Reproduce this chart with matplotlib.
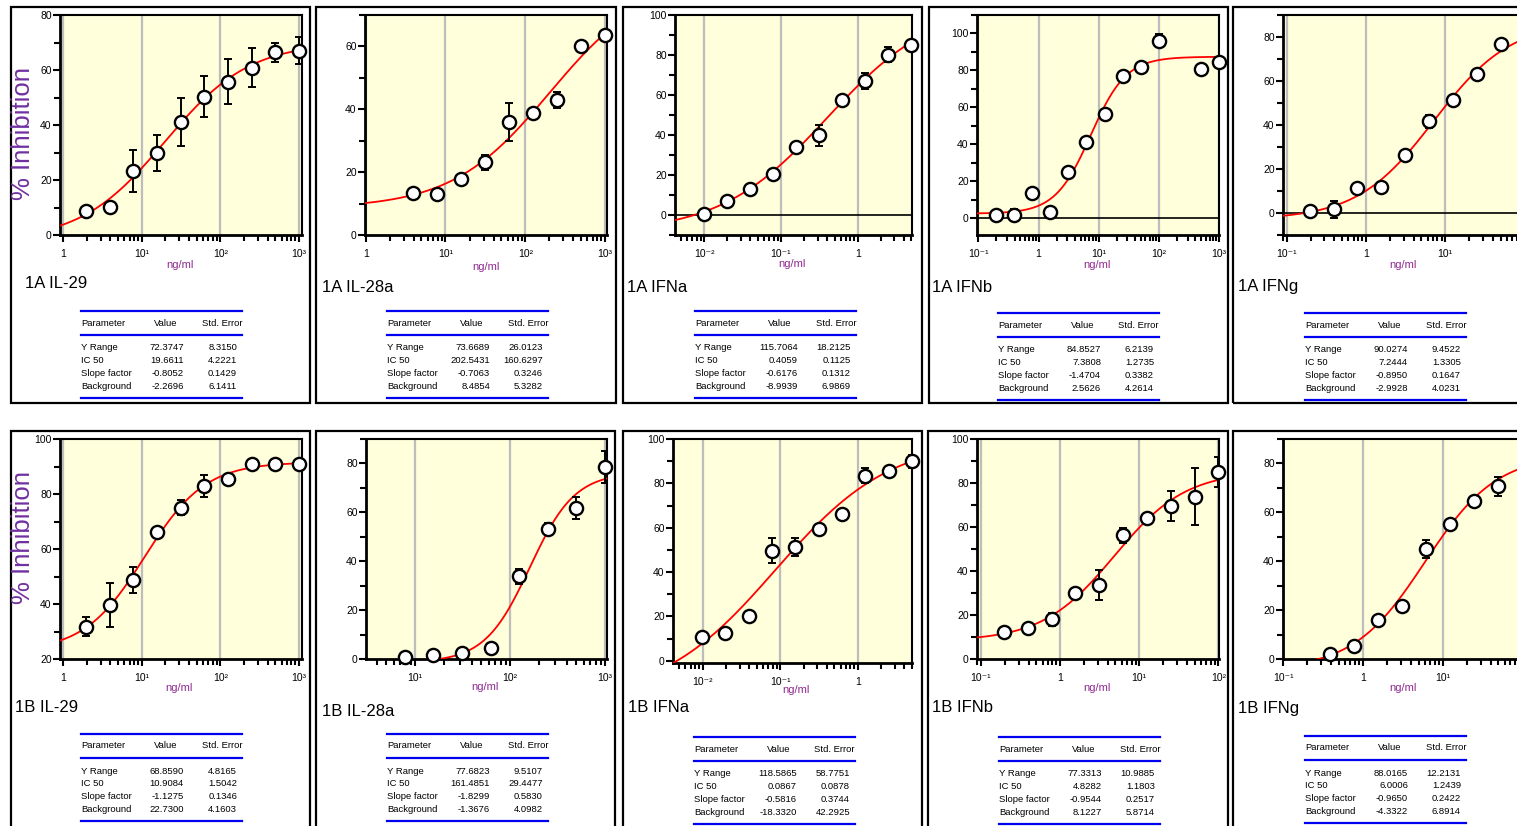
import numpy as np
import matplotlib.pyplot as plt
from matplotlib.patches import Rectangle
from matplotlib.lines import Line2D
from matplotlib.ticker import LogLocator, MultipleLocator, NullFormatter, FixedLocator, FixedFormatter

W, H = 1517, 826
plt.rcParams['font.family'] = ['Liberation Sans', 'DejaVu Sans']

# ---- data ----
params_names = ["Y Range", "IC 50", "Slope factor", "Background"]

x_1a_il29 = [1.95, 3.9, 7.8, 15.6, 31.25, 62.5, 125, 250, 500, 1000]
y_1a_il29 = [8.6, 10.3, 23.4, 29.7, 41.2, 50.3, 55.8, 60.9, 66.4, 67.0]
e_1a_il29 = [0, 0, 7.6, 6.5, 8.8, 7.5, 8.3, 7.2, 3.4, 4.9]
p_1a_il29 = [72.3747, 19.6611, -0.8052, -2.2696]
s_1a_il29 = [8.3150, 4.2221, 0.1429, 6.1411]

x_1a_il28 = [3.9, 7.8, 15.6, 31.25, 62.5, 125, 250, 500, 1000]
y_1a_il28 = [13.3, 12.9, 17.8, 23.1, 35.9, 38.9, 43.0, 60.2, 63.7]
e_1a_il28 = [0, 0, 0, 2.3, 6.0, 1.5, 2.5, 0, 0]
p_1a_il28 = [73.6689, 202.5431, -0.7063, 8.4854]
s_1a_il28 = [26.0123, 160.6297, 0.3246, 5.3282]

x_1a_ifna = [0.00977, 0.0195, 0.039, 0.078, 0.156, 0.3125, 0.625, 1.25, 2.5, 5]
y_1a_ifna = [0.5, 7.2, 13.0, 20.6, 33.9, 39.8, 57.7, 67.1, 80.2, 85.2]
e_1a_ifna = [0, 0, 2.5, 1.5, 0, 5.2, 1.5, 4.0, 3.8, 0]
p_1a_ifna = [115.7064, 0.4059, -0.6176, -8.9939]
s_1a_ifna = [18.2125, 0.1125, 0.1312, 6.9869]

x_1a_ifnb = [0.195, 0.39, 0.78, 1.56, 3.125, 6.25, 12.5, 25, 50, 100, 500, 1000]
y_1a_ifnb = [1.8, 1.8, 13.5, 3.2, 25.2, 41.2, 56.5, 77.1, 82.1, 96.2, 80.7, 84.8]
e_1a_ifnb = [0, 3.0, 0, 0, 0, 0, 0, 0, 0, 3.5, 2.5, 0]
p_1a_ifnb = [84.8527, 7.3808, -1.4704, 2.5626]
s_1a_ifnb = [6.2139, 1.2735, 0.3382, 4.2614]

x_1a_ifng = [0.195, 0.39, 0.78, 1.56, 3.125, 6.25, 12.5, 25, 50]
y_1a_ifng = [0.7, 1.6, 11.3, 11.6, 26.4, 41.7, 51.3, 63.1, 77.0]
e_1a_ifng = [0, 3.8, 0, 2.0, 0, 3.0, 0, 0, 0]
p_1a_ifng = [90.0274, 7.2444, -0.8950, -2.9928]
s_1a_ifng = [9.4522, 1.3305, 0.1647, 4.0231]

x_1b_il29 = [1.95, 3.9, 7.8, 15.6, 31.25, 62.5, 125, 250, 500, 1000]
y_1b_il29 = [31.7, 39.6, 48.7, 66.1, 75.0, 83.0, 85.3, 90.8, 91.0, 91.0]
e_1b_il29 = [3.4, 8.0, 4.6, 0, 2.8, 4.0, 0, 0, 0, 0]
p_1b_il29 = [68.8590, 10.9084, -1.1275, 22.7300]
s_1b_il29 = [4.8165, 1.5042, 0.1346, 4.1603]

x_1b_il28 = [7.8, 15.6, 31.25, 62.5, 125, 250, 500, 1000]
y_1b_il28 = [0.7, 1.6, 2.6, 4.4, 33.8, 53.2, 61.8, 78.6]
e_1b_il28 = [0, 0, 0, 2.0, 3.2, 2.5, 4.4, 6.4]
p_1b_il28 = [77.6823, 161.4851, -1.8299, -1.3676]
s_1b_il28 = [9.5107, 29.4477, 0.5830, 4.0982]

x_1b_ifna = [0.00977, 0.0195, 0.039, 0.078, 0.156, 0.3125, 0.625, 1.25, 2.5, 5]
y_1b_ifna = [10.9, 12.5, 20.3, 49.7, 51.2, 59.3, 66.2, 83.5, 85.7, 90.0]
e_1b_ifna = [0, 2.0, 0, 5.7, 4.0, 2.0, 0, 3.4, 0, 3.0]
p_1b_ifna = [118.5865, 0.0867, -0.5816, -18.3320]
s_1b_ifna = [58.7751, 0.0878, 0.3744, 42.2925]

x_1b_ifnb = [0.195, 0.39, 0.78, 1.56, 3.125, 6.25, 12.5, 25, 50, 100]
y_1b_ifnb = [12.4, 14.3, 18.1, 30.0, 33.6, 56.2, 64.1, 69.5, 73.8, 84.9]
e_1b_ifnb = [0, 2.0, 3.0, 0, 6.8, 3.4, 0, 6.7, 12.8, 6.7]
p_1b_ifnb = [77.3313, 4.8282, -0.9544, 8.1227]
s_1b_ifnb = [10.9885, 1.1803, 0.2517, 5.8714]

x_1b_ifng = [0.39, 0.78, 1.56, 3.125, 6.25, 12.5, 25, 50]
y_1b_ifng = [1.9, 5.3, 16.0, 21.5, 45.0, 55.4, 64.5, 70.7]
e_1b_ifng = [0, 0, 0, 0, 3.5, 1.5, 0, 3.9]
p_1b_ifng = [88.0165, 6.0006, -0.9650, -4.3322]
s_1b_ifng = [12.2131, 1.2439, 0.2422, 6.8914]

# ---- layout (pixels) ----
panels = [
    dict(name="1A IL-29", x=x_1a_il29, y=y_1a_il29, e=e_1a_il29, p=p_1a_il29, s=s_1a_il29,
         ax=(60, 15, 302, 235), xlim=(0.916, 1089), ylim=(0, 80), ymaj=20,
         xt=[1, 10, 100, 1000], xl=["1", "10¹", "10²", "10³"], zero=False, ylab=133,
         lab=(25, 283), ngml=(180, 265), tab=(81, 311), box=(11, 7, 310, 403)),
    dict(name="1A IL-28a", x=x_1a_il28, y=y_1a_il28, e=e_1a_il28, p=p_1a_il28, s=s_1a_il28,
         ax=(365, 15, 607, 235), xlim=(0.98, 1057), ylim=(0, 70), ymaj=20,
         xt=[1, 10, 100, 1000], xl=["1", "10¹", "10²", "10³"], zero=False, ylab=None,
         lab=(322, 288), ngml=(486, 267), tab=(387, 311), box=(316, 7, 616, 403)),
    dict(name="1A IFNa", x=x_1a_ifna, y=y_1a_ifna, e=e_1a_ifna, p=p_1a_ifna, s=s_1a_ifna,
         ax=(675, 15, 912, 235), xlim=(0.00415, 5.1), ylim=(-10, 100), ymaj=20,
         xt=[0.01, 0.1, 1], xl=["10⁻²", "10⁻¹", "1"], zero=True, ylab=None,
         lab=(627, 288), ngml=(792, 264), tab=(695, 311), box=(623, 7, 922, 403)),
    dict(name="1A IFNb", x=x_1a_ifnb, y=y_1a_ifnb, e=e_1a_ifnb, p=p_1a_ifnb, s=s_1a_ifnb,
         ax=(977, 15, 1219, 235), xlim=(0.095, 1000), ylim=(-9, 110), ymaj=20,
         xt=[0.1, 1, 10, 100, 1000], xl=["10⁻¹", "1", "10¹", "10²", "10³"], zero=True, ylab=None,
         lab=(932, 287), ngml=(1097, 265), tab=(998, 313), box=(929, 7, 1228, 403)),
    dict(name="1A IFNg", x=x_1a_ifng, y=y_1a_ifng, e=e_1a_ifng, p=p_1a_ifng, s=s_1a_ifng,
         ax=(1283, 15, 1527, 235), xlim=(0.0898, 108), ylim=(-10, 90), ymaj=20,
         xt=[0.1, 1, 10, 100], xl=["10⁻¹", "1", "10¹", ""], zero=True, ylab=None,
         lab=(1238, 286), ngml=(1403, 265), tab=(1305, 313), box=(1233, 7, 1545, 403)),
    dict(name="1B IL-29", x=x_1b_il29, y=y_1b_il29, e=e_1b_il29, p=p_1b_il29, s=s_1b_il29,
         ax=(60, 439, 302, 659), xlim=(0.916, 1089), ylim=(20, 100), ymaj=20,
         xt=[1, 10, 100, 1000], xl=["1", "10¹", "10²", "10³"], zero=False, ylab=537,
         lab=(15, 708), ngml=(179, 688), tab=(81, 734), box=(11, 431, 310, 845)),
    dict(name="1B IL-28a", x=x_1b_il28, y=y_1b_il28, e=e_1b_il28, p=p_1b_il28, s=s_1b_il28,
         ax=(366, 439, 607, 659), xlim=(3.05, 1048), ylim=(0, 90), ymaj=20,
         xt=[10, 100, 1000], xl=["10¹", "10²", "10³"], zero=False, ylab=None,
         lab=(322, 711), ngml=(485, 687), tab=(387, 734), box=(316, 431, 615, 845)),
    dict(name="1B IFNa", x=x_1b_ifna, y=y_1b_ifna, e=e_1b_ifna, p=p_1b_ifna, s=s_1b_ifna,
         ax=(673, 439, 912, 663), xlim=(0.00414, 5.0), ylim=(-1, 100), ymaj=20,
         xt=[0.01, 0.1, 1], xl=["10⁻²", "10⁻¹", "1"], zero=False, ylab=None,
         lab=(628, 708), ngml=(796, 690), tab=(694, 737), box=(623, 431, 922, 845)),
    dict(name="1B IFNb", x=x_1b_ifnb, y=y_1b_ifnb, e=e_1b_ifnb, p=p_1b_ifnb, s=s_1b_ifnb,
         ax=(977, 439, 1219, 659), xlim=(0.089, 102), ylim=(0, 100), ymaj=20,
         xt=[0.1, 1, 10, 100], xl=["10⁻¹", "1", "10¹", "10²"], zero=False, ylab=None,
         lab=(932, 708), ngml=(1097, 688), tab=(999, 737), box=(928, 431, 1228, 845)),
    dict(name="1B IFNg", x=x_1b_ifng, y=y_1b_ifng, e=e_1b_ifng, p=p_1b_ifng, s=s_1b_ifng,
         ax=(1283, 439, 1527, 659), xlim=(0.0999, 114), ylim=(0, 90), ymaj=20,
         xt=[0.1, 1, 10, 100], xl=["10⁻¹", "1", "10¹", ""], zero=False, ylab=None,
         lab=(1238, 709), ngml=(1403, 688), tab=(1305, 736), box=(1233, 431, 1545, 845)),
]

fig = plt.figure(figsize=(W / 100, H / 100), dpi=100)
fig.patch.set_facecolor("white")


def fx(x):
    return x / W


def fy(y):
    return 1 - y / H


purple = "#7030A0"
ngcol = "#912A91"
blue = "#0000F0"

for pn in panels:
    # panel frame
    x0, y0, x1, y1 = pn["box"]
    fig.add_artist(Rectangle((fx(x0), fy(y1)), (x1 - x0) / W, (y1 - y0) / H,
                             transform=fig.transFigure, fill=False, lw=1.6, ec="black"))

    l, t, r, b = pn["ax"]
    ax = fig.add_axes([fx(l), fy(b), (r - l) / W, (b - t) / H])
    ax.set_facecolor("#FFFFDC")
    ax.set_xscale("log")
    ax.set_xlim(*pn["xlim"])
    ax.set_ylim(*pn["ylim"])

    for xt in pn["xt"]:
        ax.axvline(xt, color="#BDBDBD", lw=1.6, zorder=1)
    if pn["zero"]:
        ax.axhline(0, color="black", lw=1.2, zorder=2)

    # fitted 4-parameter logistic curve from the table's parameters
    rng, ic50, slope, bg = pn["p"]
    xs = np.logspace(np.log10(pn["xlim"][0]), np.log10(pn["xlim"][1]), 400)
    ax.plot(xs, rng / (1 + (xs / ic50) ** slope) + bg, color="red", lw=1.3, zorder=3)

    ax.errorbar(pn["x"], pn["y"], yerr=pn["e"], fmt="none", ecolor="black",
                elinewidth=1.4, capsize=3.2, capthick=1.4, zorder=4)
    ax.plot(pn["x"], pn["y"], "o", ms=9.5, mfc="white", mec="black", mew=1.7, zorder=5,
            clip_on=False)

    ax.xaxis.set_major_locator(FixedLocator(pn["xt"]))
    ax.xaxis.set_major_formatter(FixedFormatter(pn["xl"]))
    ax.xaxis.set_minor_locator(LogLocator(base=10, subs=np.arange(2, 10), numticks=20))
    ax.xaxis.set_minor_formatter(NullFormatter())
    ax.yaxis.set_major_locator(MultipleLocator(pn["ymaj"]))
    ax.yaxis.set_minor_locator(MultipleLocator(pn["ymaj"] / 2))
    ax.tick_params(which="major", direction="out", length=5, width=1.5, labelsize=7.5)
    ax.tick_params(which="minor", direction="out", length=4, width=1.5)
    ax.tick_params(axis="x", which="major", pad=5)
    ax.tick_params(axis="y", which="major", pad=1)
    for sp in ax.spines.values():
        sp.set_linewidth(1.5)
    ax.spines["left"].set_linewidth(2)
    ax.spines["bottom"].set_linewidth(2)

    if pn["ylab"] is not None:
        fig.text(fx(23), fy(pn["ylab"]), "% Inhibition", rotation=90, color=purple,
                 fontsize=18.5, ha="center", va="center")
    fig.text(fx(pn["ngml"][0]), fy(pn["ngml"][1]), "ng/ml", color=ngcol, fontsize=8,
             ha="center", va="center")
    fig.text(fx(pn["lab"][0]), fy(pn["lab"][1]), pn["name"], fontsize=12,
             ha="left", va="center")

    # parameter table
    tx, ty = pn["tab"]
    tw = 161
    for dy in (0, 24, 87):
        fig.add_artist(Line2D([fx(tx), fx(tx + tw)], [fy(ty + dy), fy(ty + dy)],
                              transform=fig.transFigure, color=blue, lw=1.6))
    fs = 6.8
    fig.text(fx(tx), fy(ty + 12), "Parameter", fontsize=fs, ha="left", va="center")
    fig.text(fx(tx + 85), fy(ty + 12), "Value", fontsize=fs, ha="center", va="center")
    fig.text(fx(tx + tw), fy(ty + 12), "Std. Error", fontsize=fs, ha="right", va="center")
    for i, nm in enumerate(params_names):
        yy = fy(ty + 37 + i * 12.8)
        fig.text(fx(tx), yy, nm, fontsize=fs, ha="left", va="center")
        fig.text(fx(tx + 103), yy, "%.4f" % pn["p"][i], fontsize=fs, ha="right", va="center")
        fig.text(fx(tx + 156), yy, "%.4f" % pn["s"][i], fontsize=fs, ha="right", va="center")

fig.savefig("out.png", dpi=100, facecolor="white")
